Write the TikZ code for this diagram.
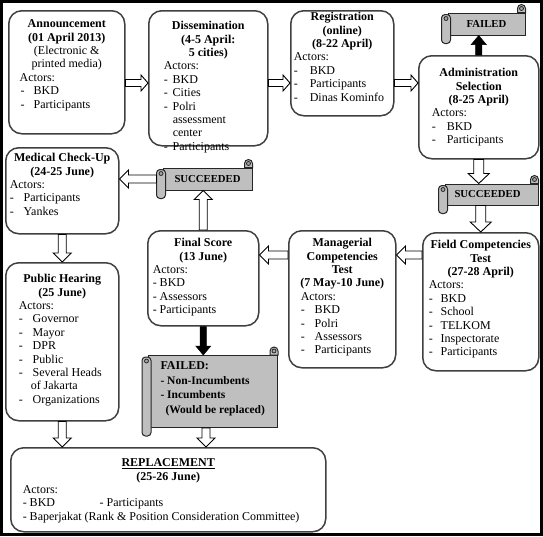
\documentclass[tikz,border=0pt]{standalone}
\usepackage{fontspec}
\setmainfont{Liberation Serif}
\usetikzlibrary{calc}
\newcommand\Ln[1]{\hbox to\linewidth{\vrule height9pt depth4.4pt width0pt #1}}
\newcommand\Cn[1]{\Ln{\hfil#1\hfil}}
\newcommand\Lf[2]{\Ln{\hspace*{#1}#2\hfil}}
\newcommand\Dt[3]{\Ln{\hspace*{#1}\makebox[#2][l]{-}#3\hfil}}
\newcommand\bx[3]{\begin{minipage}[t][#2][t]{#1}#3\end{minipage}}
\newcommand\scrolldeco[1]{%
  \filldraw[scrollline] ([xshift=-8pt]#1.north east) -- ([xshift=-8pt,yshift=4pt]#1.north east)
     arc[start angle=180,end angle=0,radius=4pt] -- (#1.north east) -- cycle;
  \filldraw[scrollcurl] ([xshift=-4pt,yshift=4pt]#1.north east) circle[radius=2pt];
  \filldraw[scrollline, rounded corners=3.5pt] ([xshift=-6pt,yshift=-2pt]#1.north west) rectangle ([xshift=3pt,yshift=-8pt]#1.south west);
  \filldraw[scrollcurl] ([xshift=-1.5pt,yshift=-6pt]#1.north west) circle[radius=2pt];
}
\tikzset{
  procbox/.style={draw=black!75, line width=1.5pt, rounded corners=13pt, fill=white,
    inner sep=0pt, anchor=north west, font=\fontsize{12}{13.4}\selectfont},
  scrollbody/.style={draw=black!85, line width=1pt, fill=gray!50, inner sep=0pt},
  scrollline/.style={draw=black!85, line width=1pt, fill=gray!50},
  scrollcurl/.style={draw=black!85, line width=0.8pt, fill=gray!70},
  blockpath/.style n args={3}{to path={
    let \p1=(\tikztostart), \p2=(\tikztotarget),
        \n1={atan2(\y2-\y1,\x2-\x1)}, \n2={veclen(\x2-\x1,\y2-\y1)} in
    ($(\p1)+(\n1+90:#1)$) -- ($(\p1)+(\n1:\n2-#3)+(\n1+90:#1)$)
    -- ($(\p1)+(\n1:\n2-#3)+(\n1+90:#2)$) -- (\p2)
    -- ($(\p1)+(\n1:\n2-#3)+(\n1-90:#2)$) -- ($(\p1)+(\n1:\n2-#3)+(\n1-90:#1)$)
    -- ($(\p1)+(\n1-90:#1)$) -- cycle}},
  hollowS/.style={blockpath={3.5pt}{8pt}{7pt}, draw=black, fill=white, line width=0.9pt},
  hollowM/.style={blockpath={4pt}{9pt}{9pt}, draw=black, fill=white, line width=0.9pt},
  hollowL/.style={blockpath={5pt}{10.5pt}{10pt}, draw=black, fill=white, line width=0.9pt},
  solidarr/.style={blockpath={3.2pt}{7.5pt}{9pt}, draw=black, fill=black, line width=0.5pt}
}
\begin{document}
\begin{tikzpicture}[x=1pt,y=-1pt]
\useasboundingbox (0,0) rectangle (543,536);
\draw[line width=3pt] (1.5,1.5) rectangle (541.5,534.5);

% process boxes
\node[procbox] (ann) at (8,10) {\bx{116pt}{123pt}{\vspace*{8pt}
  \Cn{\bfseries Announcement}
  \Cn{\bfseries (01 April 2013)}
  \Cn{(Electronic \&}
  \Cn{printed media)}
  \Lf{11pt}{Actors:}
  \Dt{12pt}{13pt}{BKD}
  \Dt{12pt}{13pt}{Participants}}};

\node[procbox] (dis) at (148,10) {\bx{119pt}{135pt}{\vspace*{10pt}
  \Cn{\bfseries Dissemination}
  \Cn{\bfseries (4-5 April:}
  \Cn{\bfseries 5 cities)}
  \Lf{15pt}{Actors:}
  \Dt{15pt}{9pt}{BKD}
  \Dt{15pt}{9pt}{Cities}
  \Dt{15pt}{9pt}{Polri}
  \Lf{24pt}{assessment}
  \Lf{24pt}{center}
  \Dt{15pt}{9pt}{Participants}}};

\node[procbox] (reg) at (290,10) {\bx{103pt}{105pt}{\vspace*{1pt}
  \Cn{\bfseries Registration}
  \Cn{\bfseries (online)}
  \Cn{\bfseries (8-22 April)}
  \Lf{3pt}{Actors:}
  \Dt{3pt}{16pt}{BKD}
  \Dt{3pt}{16pt}{Participants}
  \Dt{3pt}{16pt}{Dinas Kominfo}}};

\node[procbox] (adm) at (418,55) {\bx{120pt}{103pt}{\vspace*{12pt}
  \Cn{\bfseries Administration}
  \Cn{\bfseries Selection}
  \Cn{\bfseries (8-25 April)}
  \Lf{13pt}{Actors:}
  \Dt{13pt}{15pt}{BKD}
  \Dt{13pt}{15pt}{Participants}}};

\node[procbox] (med) at (5,147) {\bx{113pt}{86pt}{\vspace*{5pt}
  \Cn{\bfseries Medical Check-Up}
  \Cn{\bfseries (24-25 June)}
  \Lf{4pt}{Actors:}
  \Dt{4pt}{14pt}{Participants}
  \Dt{4pt}{14pt}{Yankes}}};

\node[procbox] (pub) at (5,262) {\bx{113pt}{158pt}{\vspace*{11pt}
  \Cn{\bfseries Public Hearing}
  \Cn{\bfseries (25 June)}
  \Lf{13pt}{Actors:}
  \Dt{13pt}{14pt}{Governor}
  \Dt{13pt}{14pt}{Mayor}
  \Dt{13pt}{14pt}{DPR}
  \Dt{13pt}{14pt}{Public}
  \Dt{13pt}{14pt}{Several Heads}
  \Lf{25pt}{of Jakarta}
  \Dt{13pt}{14pt}{Organizations}}};

\node[procbox] (fin) at (147,230) {\bx{111pt}{95pt}{\vspace*{7pt}
  \Cn{\bfseries Final Score}
  \Cn{\bfseries (13 June)}
  \Lf{5pt}{Actors:}
  \Lf{5pt}{- BKD}
  \Lf{5pt}{- Assessors}
  \Lf{5pt}{- Participants}}};

\node[procbox] (man) at (288,230) {\bx{107pt}{137pt}{\vspace*{7pt}
  \Cn{\bfseries Managerial}
  \Cn{\bfseries Competencies}
  \Cn{\bfseries Test}
  \Cn{\bfseries (7 May-10 June)}
  \Lf{12pt}{Actors:}
  \Dt{12pt}{14pt}{BKD}
  \Dt{12pt}{14pt}{Polri}
  \Dt{12pt}{14pt}{Assessors}
  \Dt{12pt}{14pt}{Participants}}};

\node[procbox] (fie) at (422,232) {\bx{116pt}{138pt}{\vspace*{7pt}
  \Cn{\bfseries Field Competencies}
  \Cn{\bfseries Test}
  \Cn{\bfseries (27-28 April)}
  \Lf{6pt}{Actors:}
  \Dt{6pt}{12pt}{BKD}
  \Dt{6pt}{12pt}{School}
  \Dt{6pt}{12pt}{TELKOM}
  \Dt{6pt}{12pt}{Inspectorate}
  \Dt{6pt}{12pt}{Participants}}};

\node[procbox] (rep) at (10,447) {\bx{315pt}{84pt}{\vspace*{10pt}
  \Cn{\bfseries\underline{REPLACEMENT}}
  \Cn{\bfseries (25-26 June)}
  \Lf{12pt}{Actors:}
  \Ln{\hspace*{12pt}\makebox[77pt][l]{- BKD}- Participants\hfil}
  \Lf{12pt}{- Baperjakat (Rank \& Position Consideration Committee)}}};

% scrolls
\node[scrollbody, minimum width=77pt, minimum height=22pt,
      font=\bfseries\fontsize{10.7}{12}\selectfont] (f1) at (486.5,24) {FAILED};
\scrolldeco{f1}
\node[scrollbody, minimum width=93pt, minimum height=21pt,
      font=\bfseries\fontsize{10.7}{12}\selectfont] (s1) at (491.5,194.5) {\hspace*{-8pt}SUCCEEDED};
\scrolldeco{s1}
\node[scrollbody, minimum width=89pt, minimum height=22pt,
      font=\bfseries\fontsize{10.7}{12}\selectfont] (s2) at (207.5,179) {SUCCEEDED};
\scrolldeco{s2}
\node[scrollbody, anchor=north west, font=\bfseries\fontsize{11.5}{14.5}\selectfont] (f2) at (148,355)
  {\begin{minipage}[t][72pt][t]{129pt}\vspace*{5pt}
   \Lf{12pt}{\fontsize{12}{14.5}\selectfont FAILED:}
   \Lf{12pt}{- Non-Incumbents}
   \Lf{12pt}{- Incumbents}
   \Lf{17pt}{(Would be replaced)}\end{minipage}};
\scrolldeco{f2}

% connectors
\coordinate (r1) at (0,83);
\coordinate (r2) at (0,255);
\draw[hollowS] (ann.east |- r1) to (dis.west |- r1);
\draw[hollowS] (dis.east |- r1) to (reg.west |- r1);
\draw[hollowS] (reg.east |- r1) to (adm.west |- r1);
\draw[solidarr] (adm.north) to (adm.north |- f1.south);
\draw[hollowL] (adm.south) to (adm.south |- s1.north);
\draw[hollowL] (fie.north |- s1.south) to (fie.north);
\draw[hollowM] (fie.west |- r2) to (man.east |- r2);
\draw[hollowM] (man.west |- r2) to (fin.east |- r2);
\draw[hollowM] (fin.north) to (fin.north |- s2.south);
\coordinate (s2l) at ([xshift=-6pt]s2.west);
\draw[hollowM] (s2l) to (med.east |- s2l);
\draw[hollowM] (med.south) to (pub.north);
\draw[solidarr] (fin.south) to (fin.south |- f2.north);
\draw[hollowM] (pub.south) to (pub.south |- rep.north);
\coordinate (f2b) at ([xshift=-7pt]f2.south);
\draw[hollowM] (f2b) to (f2b |- rep.north);
\end{tikzpicture}
\end{document}
